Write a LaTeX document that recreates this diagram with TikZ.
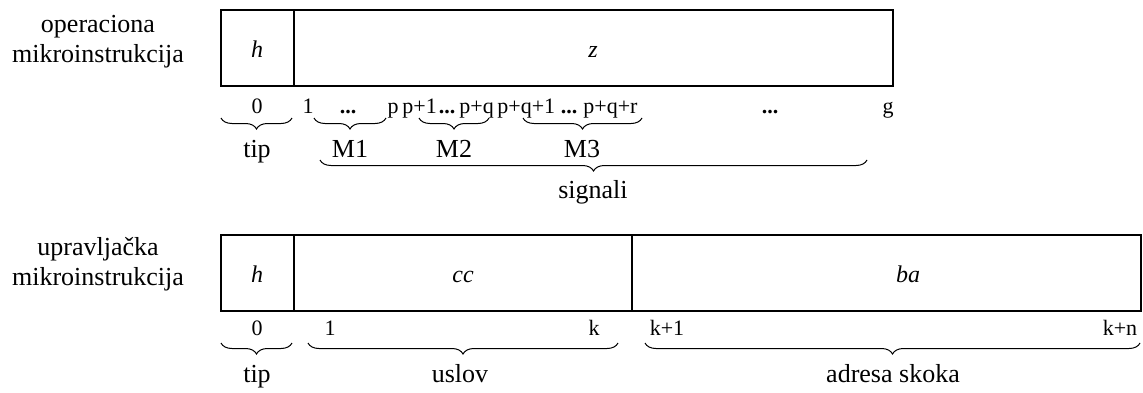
\documentclass[tikz,border=0pt]{standalone}
\usepackage{fontspec}
\setmainfont{Liberation Serif}
\usetikzlibrary{decorations.pathreplacing}
\begin{document}
\begin{tikzpicture}[x=0.5pt,y=-0.5pt,
  box/.style={draw, line width=0.75pt},
  lbl/.style={font=\fontsize{13}{15}\selectfont, anchor=base, inner sep=0pt},
  idx/.style={font=\fontsize{11}{13}\selectfont, anchor=base, inner sep=0pt},
  idxw/.style={font=\fontsize{11}{13}\selectfont, anchor=base west, inner sep=0pt},
  fname/.style={font=\fontsize{12}{14}\selectfont\itshape, anchor=base, inner sep=0pt},
  brc/.style={decorate, decoration={brace, mirror, amplitude=5.5pt}, line width=0.5pt},
]
\useasboundingbox (0,0) rectangle (1143,392);

% ---------- operaciona mikroinstrukcija ----------
\node[lbl] (op1) at (98,32) {operaciona};
\node[lbl] (op2) at (98,62) {mikroinstrukcija};

\coordinate (a1) at (221,10);
\coordinate (a2) at (893,86);
\draw[box] (a1) rectangle (a2);
\coordinate (ad1) at (294,10);
\coordinate (ad2) at (294,86);
\draw[box] (ad1) -- (ad2);
\node[fname] (ah) at (257,57) {h};
\node[fname] (az) at (593,57) {z};

\node[idx] (i0) at (257,113) {0};
\node[idx] (i1) at (308,113) {1};
\node[idx] (id1) at (348,113) {\textbf{...}};
\node[idx] (ip) at (393,113) {p};
\node[idxw] (ip1) at (402,113) {p+1};
\node[idx] (id2) at (447,113) {\textbf{...}};
\node[idxw] (ipq) at (459,113) {p+q};
\node[idxw] (ipq1) at (497,113) {p+q+1};
\node[idx] (id3) at (569,113) {\textbf{...}};
\node[idxw] (ipqr) at (583,113) {p+q+r};
\node[idx] (id4) at (770,113) {\textbf{...}};
\node[idx] (ig) at (888,113) {g};

\coordinate (bt1) at (221,118); \coordinate (bt2) at (292,118);
\coordinate (bm11) at (314,118); \coordinate (bm12) at (386,118);
\coordinate (bm21) at (419,118); \coordinate (bm22) at (489,118);
\coordinate (bm31) at (523,118); \coordinate (bm32) at (642,118);
\draw[brc] (bt1) -- (bt2);
\draw[brc] (bm11) -- (bm12);
\draw[brc] (bm21) -- (bm22);
\draw[brc] (bm31) -- (bm32);

\node[lbl] (ltip) at (257,157) {tip};
\node[lbl] (lm1) at (350,157) {M1};
\node[lbl] (lm2) at (454,157) {M2};
\node[lbl] (lm3) at (582,157) {M3};

\coordinate (bs1) at (320,160); \coordinate (bs2) at (867,160);
\draw[brc] (bs1) -- (bs2);
\node[lbl] (lsig) at (593,198) {signali};

% ---------- upravljacka mikroinstrukcija ----------
\node[lbl] (up1) at (98,255) {upravljačka};
\node[lbl] (up2) at (98,285) {mikroinstrukcija};

\coordinate (b1) at (221,235);
\coordinate (b2) at (1141,311);
\draw[box] (b1) rectangle (b2);
\coordinate (bd1) at (294,235); \coordinate (bd2) at (294,311);
\coordinate (bd3) at (632,235); \coordinate (bd4) at (632,311);
\draw[box] (bd1) -- (bd2);
\draw[box] (bd3) -- (bd4);
\node[fname] (bh) at (257,282) {h};
\node[fname] (bcc) at (463,282) {cc};
\node[fname] (bba) at (908,282) {ba};

\node[idx] (j0) at (257,335) {0};
\node[idx] (j1) at (330,335) {1};
\node[idx] (jk) at (594,335) {k};
\node[idx] (jk1) at (667,335) {k+1};
\node[idx] (jkn) at (1120,335) {k+n};

\coordinate (ct1) at (221,343); \coordinate (ct2) at (292,343);
\coordinate (cu1) at (308,343); \coordinate (cu2) at (618,343);
\coordinate (ca1) at (645,343); \coordinate (ca2) at (1140,343);
\draw[brc] (ct1) -- (ct2);
\draw[brc] (cu1) -- (cu2);
\draw[brc] (ca1) -- (ca2);

\node[lbl] (mtip) at (257,382) {tip};
\node[lbl] (muslov) at (460,382) {uslov};
\node[lbl] (madr) at (893,382) {adresa skoka};
\end{tikzpicture}
\end{document}
